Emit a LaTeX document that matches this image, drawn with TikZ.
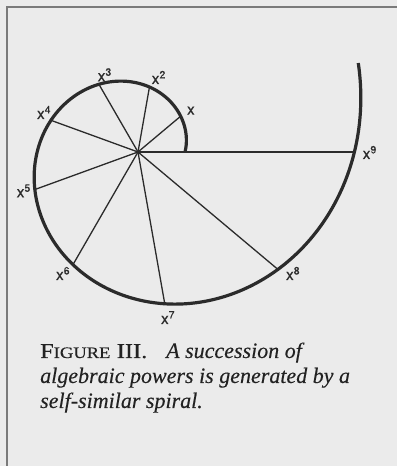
\documentclass[tikz,border=0pt]{standalone}
\usepackage{fontspec}
\newfontfamily\lblfont[FakeBold=0.5]{TeX Gyre Heros}
\newfontfamily\capfont[FakeBold=0.2]{Liberation Serif}
\usetikzlibrary{calc}
\definecolor{bgc}{HTML}{EBEBEB}
\definecolor{inkc}{HTML}{2B2B2B}
\definecolor{framec}{HTML}{7A7A7A}
\definecolor{capc}{HTML}{222222}
\newcommand\pwr[1]{x\raisebox{5.6pt}{\fontsize{10.5}{10.5}\selectfont #1}}
\newcommand\bigc[1]{{\fontsize{21}{25}\selectfont #1}}
\newcommand\smallc[1]{{\fontsize{16}{25}\selectfont #1}}
\begin{document}
\begin{tikzpicture}[x=1pt,y=1pt,
  spiralline/.style={line width=3.2pt, draw=inkc},
  ray/.style={line width=1.3pt, draw=inkc},
  pw/.style={inner sep=0pt, anchor=base west, text=inkc, font=\lblfont\fontsize{15.5}{15.5}\selectfont},
  captext/.style={inner sep=0pt, anchor=base west, text=capc, font=\capfont\fontsize{22}{25}\selectfont}]
\fill[bgc] (0,0) rectangle (397,466);
\useasboundingbox (0,0) rectangle (397,466);
\draw[framec, line width=1.6pt] (7,0) -- (7,459) -- (397,459);
\coordinate (O) at (138,314);
\foreach \k in {1,...,9} {
  \coordinate (p\k) at ($(O)+({40*\k}:{47*exp(0.16992*\k)})$);
  \draw[ray] (O) -- (p\k);
}
\draw[spiralline] plot[domain=0:382, samples=240, smooth]
  ({138+47*exp(0.004248*\x)*cos(\x)},{314+47*exp(0.004248*\x)*sin(\x)});
\node[pw] (l1) at (186.8,351.3) {x};
\node[pw] (l2) at (151.5,382) {\pwr{2}};
\node[pw] (l3) at (97.5,384.7) {\pwr{3}};
\node[pw] (l4) at (36.8,347) {\pwr{4}};
\node[pw] (l5) at (16.5,268.7) {\pwr{5}};
\node[pw] (l6) at (55.8,186) {\pwr{6}};
\node[pw] (l7) at (160.8,142) {\pwr{7}};
\node[pw] (l8) at (285.8,186) {\pwr{8}};
\node[pw] (l9) at (362.5,307) {\pwr{9}};
\node[captext] (c1a) at (40,108) {\scalebox{1.16}[1]{\bigc{F}\smallc{IGURE} \bigc{III.}}};
\node[captext] (c1b) at (166,108) {\itshape A succession of};
\node[captext] (c2) at (40,83) {\itshape algebraic powers is generated by a};
\node[captext] (c3) at (40,58) {\itshape self-similar spiral.};
\end{tikzpicture}
\end{document}
